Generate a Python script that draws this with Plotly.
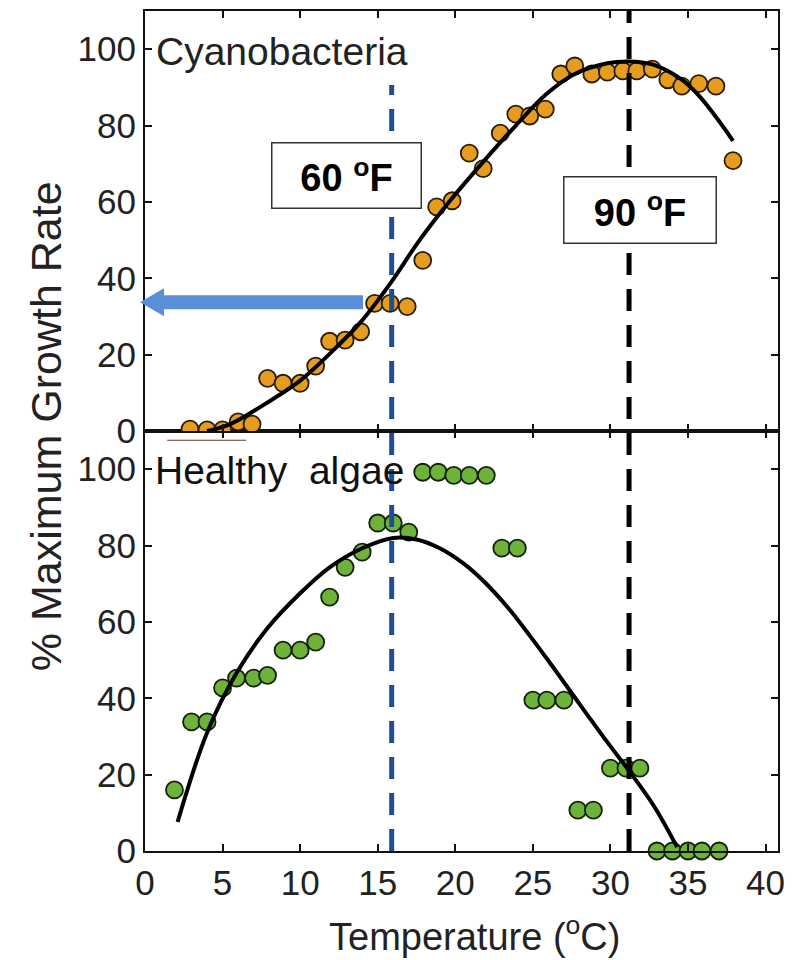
import plotly.graph_objects as go

# ---------------- data ----------------
cyano_temp = [2.9, 4.0, 5.0, 6.0, 6.9, 7.9, 8.9, 10.0, 11.0, 11.9, 12.9, 13.9, 14.8, 15.8,
              16.9, 17.9, 18.8, 19.8, 20.9, 21.8, 22.9, 23.9, 24.8, 25.8, 26.8, 27.7,
              28.8, 29.8, 30.8, 31.7, 32.7, 33.7, 34.6, 35.7, 36.8, 37.9]
cyano_rate = [0.5, 0.3, 0.3, 2.4, 1.8, 13.8, 12.5, 12.5, 17.0, 23.5, 23.8, 26.0, 33.4, 33.4,
              32.6, 44.7, 58.7, 60.3, 72.8, 68.7, 78.0, 83.0, 82.5, 84.3, 93.5, 95.6,
              93.5, 94.0, 94.3, 94.3, 94.8, 92.0, 90.3, 91.0, 90.3, 70.8]

cyano_fit_temp = [4.0, 5.5, 8.1, 10.0, 11.9, 13.9, 15.8, 17.7, 19.7, 21.8, 23.9, 25.8,
                  27.7, 29.8, 31.2, 32.7, 34.6, 35.8, 36.9, 37.9]
cyano_fit_rate = [0.0, 1.8, 8.0, 13.2, 20.2, 28.5, 38.6, 50.0, 60.5, 70.5, 80.0, 88.0,
                  93.5, 96.3, 96.8, 96.0, 92.0, 87.4, 81.7, 76.0]

algae_temp = [1.9, 3.0, 4.0, 5.0, 5.9, 7.0, 7.9, 8.9, 10.0, 11.0, 11.9, 12.9, 14.0, 15.0,
              16.0, 17.0, 17.9, 18.9, 19.9, 20.9, 22.0, 23.0, 24.0, 25.0, 25.9, 27.0,
              27.9, 28.9, 30.0, 31.0, 31.9, 33.0, 34.0, 35.0, 35.9, 37.0]
algae_rate = [16.0, 33.8, 33.8, 42.7, 45.3, 45.3, 46.0, 52.6, 52.6, 54.7, 66.5, 74.3, 78.3, 85.9,
              85.9, 83.5, 99.2, 99.2, 98.4, 98.4, 98.4, 79.3, 79.3, 39.5, 39.5, 39.5,
              10.7, 10.7, 21.7, 21.7, 21.7, 0.0, 0.0, 0.0, 0.0, 0.0]

algae_fit_temp = [2.1, 4.0, 5.9, 7.9, 10.0, 11.9, 14.0, 16.0, 17.5, 19.0, 20.5, 21.9,
                  23.4, 24.8, 26.2, 27.6, 29.8, 31.2, 32.8, 34.3]
algae_fit_rate = [7.6, 31.0, 46.6, 58.4, 67.5, 74.3, 79.3, 82.0, 81.6, 79.3, 75.4, 70.4,
                  63.7, 56.4, 48.7, 40.8, 28.5, 21.0, 11.8, 1.0]

temp_60F = 15.9
temp_90F = 31.2
arrow_rate = 33.7

x_ticks = [0, 5, 10, 15, 20, 25, 30, 35, 40]
y_ticks = [0, 20, 40, 60, 80, 100]

# ---------------- styles ----------------
FONT = "Arial, Liberation Sans, sans-serif"
ORANGE = "#e69c1e"
GREEN = "#6db33a"
DARK_BLUE = "#1f4e91"
ARROW_BLUE = "#5a8ed6"

fig = go.Figure()

fig.add_trace(go.Scatter(x=cyano_temp, y=cyano_rate, mode="markers", xaxis="x2", yaxis="y2",
                         marker=dict(size=17, color=ORANGE, line=dict(color="#2b1d08", width=1.8)),
                         showlegend=False))
fig.add_trace(go.Scatter(x=cyano_fit_temp, y=cyano_fit_rate, mode="lines", xaxis="x2", yaxis="y2",
                         line=dict(color="black", width=4, shape="spline", smoothing=1.0),
                         showlegend=False))
fig.add_trace(go.Scatter(x=algae_temp, y=algae_rate, mode="markers", xaxis="x", yaxis="y",
                         marker=dict(size=17, color=GREEN, line=dict(color="#14200a", width=1.8)),
                         cliponaxis=False, showlegend=False))
fig.add_trace(go.Scatter(x=algae_fit_temp, y=algae_fit_rate, mode="lines", xaxis="x", yaxis="y",
                         line=dict(color="black", width=4, shape="spline", smoothing=1.0),
                         showlegend=False))

axis_common = dict(showline=True, linecolor="#111", linewidth=2, ticks="inside", ticklen=7,
                   tickwidth=2, tickcolor="#111", mirror="ticks", showgrid=False, zeroline=False,
                   tickfont=dict(family=FONT, size=35, color="#222"))

fig.update_layout(
    width=802, height=952,
    margin=dict(l=137, r=32, t=1, b=109),
    paper_bgcolor="white", plot_bgcolor="white",
    xaxis=dict(domain=[0, 1], range=[0, 40.8], anchor="y", tickvals=x_ticks, **axis_common),
    xaxis2=dict(domain=[0, 1], range=[0, 40.8], anchor="y2", matches="x", tickvals=x_ticks,
                showticklabels=False, **axis_common),
    yaxis=dict(domain=[0, 0.5], range=[0, 110], anchor="x", tickvals=y_ticks, **axis_common),
    yaxis2=dict(domain=[0.5, 1], range=[0, 110], anchor="x2", tickvals=y_ticks, **axis_common),
)

shapes = []
# vertical dashed reference lines (span both panels)
shapes.append(dict(type="line", xref="x", yref="paper", x0=temp_60F, x1=temp_60F, y0=0, y1=0.912,
                   line=dict(color=DARK_BLUE, width=5, dash="22px,14px"), layer="above"))
shapes.append(dict(type="line", xref="x", yref="paper", x0=temp_90F, x1=temp_90F, y0=0, y1=1,
                   line=dict(color="black", width=5, dash="22px,14px"), layer="above"))
# blue arrow pointing to the y axis
shapes.append(dict(type="path", xref="paper", yref="y2", xsizemode="pixel", ysizemode="pixel",
                   xanchor=0, yanchor=arrow_rate,
                   path="M-5,0 L19,14 L19,7 L218,7 L218,-7 L19,-7 L19,-14 Z",
                   fillcolor=ARROW_BLUE, line=dict(width=0), layer="above"))
# thin underline artefact below the first cyanobacteria points
shapes.append(dict(type="line", xref="paper", yref="paper", x0=0.035, x1=0.16, y0=0.489, y1=0.489,
                   line=dict(color="#6b3a30", width=1.2)))
# left window border
shapes.append(dict(type="line", xref="paper", yref="paper", x0=-0.223, x1=-0.223, y0=-0.13, y1=1.01,
                   line=dict(color="#9cc3e6", width=2)))
fig.update_layout(shapes=shapes)

annotations = [
    dict(text="Cyanobacteria", xref="x2", yref="y2", x=0.6, y=99.5, xanchor="left", yanchor="middle",
         showarrow=False, font=dict(family=FONT, size=39, color="#222")),
    dict(text="Healthy\u00a0 algae", xref="x", yref="y", x=0.5, y=99.7, xanchor="left", yanchor="middle",
         showarrow=False, font=dict(family=FONT, size=39, color="#111")),
    dict(text="60 <sup>o</sup>F", xref="x2", yref="y2", x=13.0, y=66.9, showarrow=False,
         font=dict(family=FONT, size=38, color="black", weight="bold"),
         bgcolor="white", bordercolor="#333", borderwidth=1.5, width=146, height=62, borderpad=1),
    dict(text="90 <sup>o</sup>F", xref="x2", yref="y2", x=31.9, y=57.9, showarrow=False,
         font=dict(family=FONT, size=38, color="black", weight="bold"),
         bgcolor="white", bordercolor="#333", borderwidth=1.5, width=149, height=63, borderpad=1),
    dict(text="% Maximum Growth Rate", xref="paper", yref="paper", x=-0.156, y=0.506,
         textangle=-90, showarrow=False, xanchor="center", yanchor="middle",
         font=dict(family=FONT, size=43, color="#222")),
    dict(text="Temperature (<sup>o</sup>C)", xref="paper", yref="paper", x=0.521, y=-0.099,
         showarrow=False, xanchor="center", yanchor="middle",
         font=dict(family=FONT, size=38, color="#222")),
]
fig.update_layout(annotations=annotations)

fig.write_html("out.html")
